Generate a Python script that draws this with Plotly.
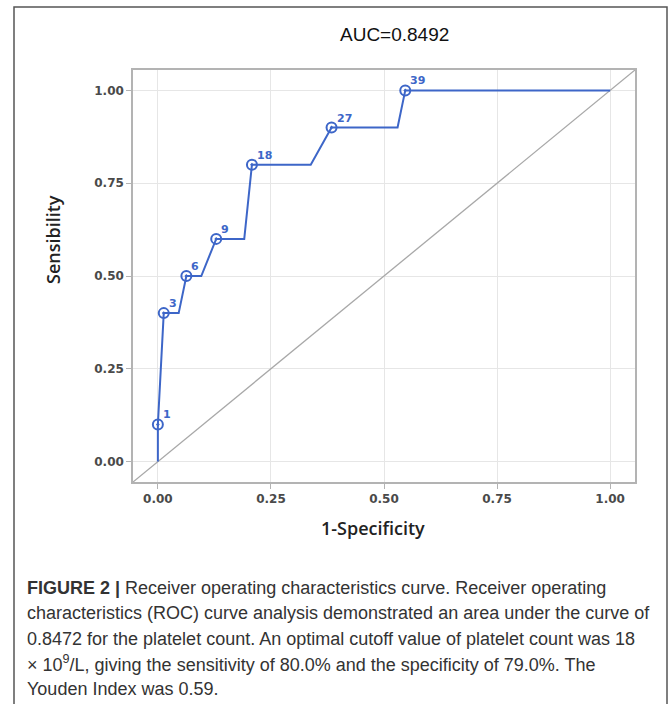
import plotly.graph_objects as go

# ---- data ----
roc_fpr = [0.0, 0.0, 0.013, 0.046, 0.063, 0.096, 0.129, 0.191, 0.208, 0.338, 0.384, 0.530, 0.547, 1.0]
roc_tpr = [0.0, 0.1, 0.4, 0.4, 0.5, 0.5, 0.6, 0.6, 0.8, 0.8, 0.9, 0.9, 1.0, 1.0]
cut_fpr = [0.0, 0.013, 0.063, 0.129, 0.208, 0.384, 0.547]
cut_tpr = [0.1, 0.4, 0.5, 0.6, 0.8, 0.9, 1.0]
cut_labels = ["1", "3", "6", "9", "18", "27", "39"]
tick_vals = [0, 0.25, 0.5, 0.75, 1.0]
tick_text = ["0.00", "0.25", "0.50", "0.75", "1.00"]
ax_range = [-0.055, 1.055]

title_text = "AUC=0.8492"
caption_lines = [
    "<b>FIGURE 2 |</b> Receiver operating characteristics curve. Receiver operating",
    "characteristics (ROC) curve analysis demonstrated an area under the curve of",
    "0.8472 for the platelet count. An optimal cutoff value of platelet count was 18",
    "\u00d7 10<sup>9</sup>/L, giving the sensitivity of 80.0% and the specificity of 79.0%. The",
    "Youden Index was 0.59.",
]

W, H = 669, 704
ML, MR, MT, MB = 133, 34, 70, 222
PW, PH = W - ML - MR, H - MT - MB

def px(x):
    return (x - ML) / PW

def py(y):
    return (H - MB - y) / PH

BLUE = "#3d66c8"

fig = go.Figure()
fig.add_trace(go.Scatter(x=ax_range, y=ax_range, mode="lines",
                         line=dict(color="#a8a8a8", width=1.3), hoverinfo="skip"))
fig.add_trace(go.Scatter(x=roc_fpr, y=roc_tpr, mode="lines",
                         line=dict(color=BLUE, width=2)))
fig.add_trace(go.Scatter(x=cut_fpr, y=cut_tpr, mode="markers",
                         marker=dict(symbol="circle-open-dot", size=10, color=BLUE,
                                     line=dict(color=BLUE, width=2))))

axis_common = dict(range=ax_range, tickvals=tick_vals, ticktext=tick_text,
                   showgrid=True, gridcolor="#e6e6e6", gridwidth=1,
                   zeroline=False, showline=True, linecolor="#b3b3b3", linewidth=1.5,
                   mirror=True, ticks="outside", ticklen=5, tickcolor="#b3b3b3",
                   tickfont=dict(family="DejaVu Sans", size=12, color="#4a4a4a", weight="bold"))
fig.update_xaxes(**axis_common)
fig.update_yaxes(**axis_common)

annotations = [
    dict(text=title_text, x=px(394), y=py(35), xref="paper", yref="paper",
         xanchor="center", yanchor="middle", showarrow=False,
         font=dict(family="Liberation Sans", size=19, color="#111")),
    dict(text="1-Specificity", x=px(373), y=py(528), xref="paper", yref="paper",
         xanchor="center", yanchor="middle", showarrow=False,
         font=dict(family="Open Sans", size=18, color="#222", weight=600)),
    dict(text="Sensibility", x=px(53), y=py(240), xref="paper", yref="paper",
         xanchor="center", yanchor="middle", showarrow=False, textangle=-90,
         font=dict(family="Open Sans", size=18, color="#222", weight=600)),
]
for fx, ty, lab in zip(cut_fpr, cut_tpr, cut_labels):
    annotations.append(dict(text=lab, x=fx, y=ty, xref="x", yref="y",
                            xanchor="left", yanchor="bottom", xshift=3, yshift=1,
                            showarrow=False,
                            font=dict(family="DejaVu Sans", size=11, color=BLUE, weight="bold")))
for i, line in enumerate(caption_lines):
    annotations.append(dict(text=line, x=px(25), y=py(588 + 25.3 * i), xref="paper", yref="paper",
                            xanchor="left", yanchor="middle", showarrow=False,
                            font=dict(family="Liberation Sans", size=18, color="#333")))

shapes = [
    dict(type="rect", xref="paper", yref="paper", x0=px(14), x1=px(667), y0=py(7), y1=py(712),
         line=dict(color="#555", width=1.5), fillcolor="rgba(0,0,0,0)", layer="below"),
]

fig.update_layout(width=W, height=H, margin=dict(l=ML, r=MR, t=MT, b=MB),
                  paper_bgcolor="white", plot_bgcolor="white", showlegend=False,
                  annotations=annotations, shapes=shapes)

fig.write_html("out.html", config={"displayModeBar": False},
               post_script="document.body.style.margin='0';document.body.style.overflow='hidden';")
